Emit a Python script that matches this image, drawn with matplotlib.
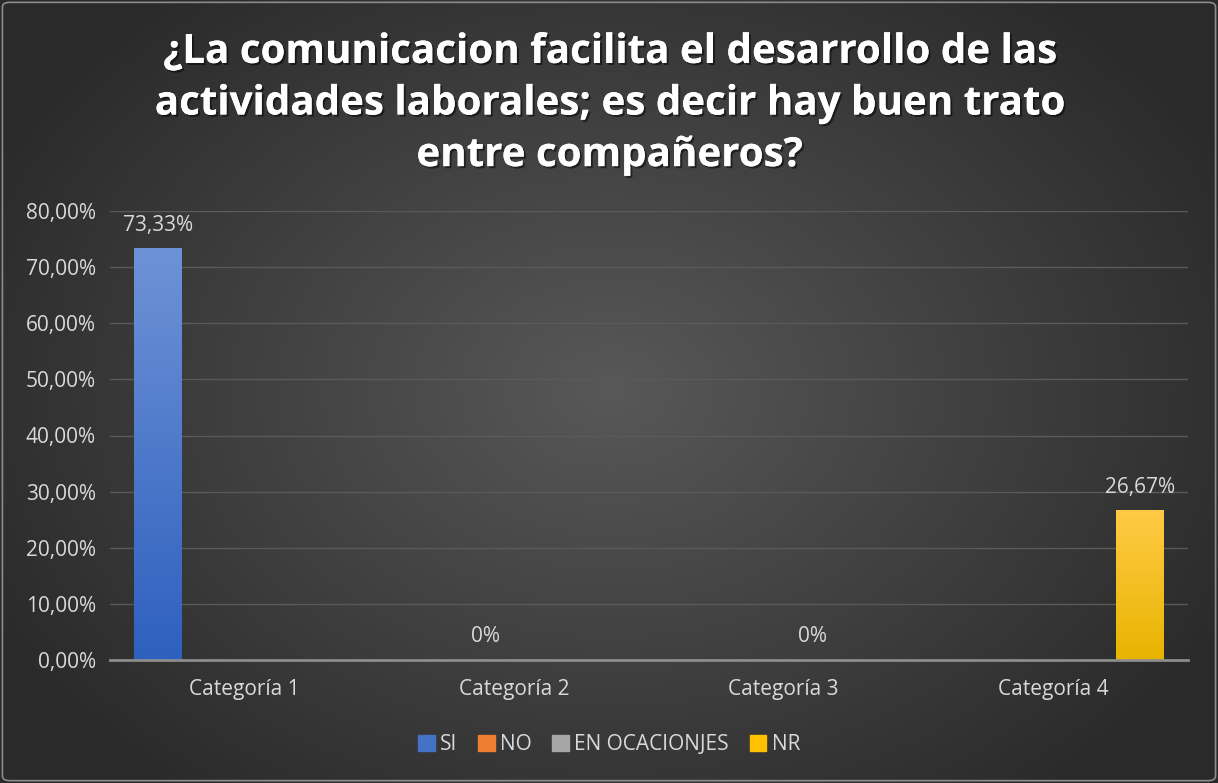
import numpy as np
import matplotlib
matplotlib.use("Agg")
import matplotlib.pyplot as plt
from matplotlib.patches import FancyBboxPatch
from matplotlib.colors import LinearSegmentedColormap
import matplotlib.patheffects as pe

categories = ["Categoría 1", "Categoría 2", "Categoría 3", "Categoría 4"]
series_names = ["SI", "NO", "EN OCACIONJES", "NR"]
si = [73.33, np.nan, np.nan, np.nan]
no = [np.nan, 0.0, np.nan, np.nan]
en_ocasiones = [np.nan, np.nan, 0.0, np.nan]
nr = [np.nan, np.nan, np.nan, 26.67]
series_values = [si, no, en_ocasiones, nr]
yticks = [0, 10, 20, 30, 40, 50, 60, 70, 80]
ytick_labels = ["0,00%", "10,00%", "20,00%", "30,00%", "40,00%", "50,00%", "60,00%", "70,00%", "80,00%"]
title = "¿La comunicacion facilita el desarrollo de las\nactividades laborales; es decir hay buen trato\nentre compañeros?"

colors_top = ["#6e92d6", "#f4884a", "#b0b0b0", "#ffca45"]
colors_bot = ["#2e60bf", "#e06d22", "#8f8f8f", "#e8b400"]
legend_colors = ["#4472c4", "#ed7d31", "#a5a5a5", "#ffc000"]
FS = 15

W, H = 1218, 783
fig = plt.figure(figsize=(W / 100, H / 100), dpi=100)
fig.patch.set_facecolor("#404040")

# background radial gradient
bg = fig.add_axes([0, 0, 1, 1], zorder=-10)
yy, xx = np.mgrid[0:H, 0:W]
r = np.sqrt(((xx - 610) / 700.0) ** 2 + ((yy - 390) / 520.0) ** 2)
r = np.clip(r, 0, 1)
c0 = np.array([0x58, 0x58, 0x58]) / 255
c1 = np.array([0x2a, 0x2a, 0x2a]) / 255
img = c0[None, None, :] * (1 - r[..., None]) + c1[None, None, :] * r[..., None]
bg.imshow(img, extent=[0, 1, 0, 1], aspect="auto", origin="upper")
bg.set_axis_off()
bg.add_patch(FancyBboxPatch((0.002, 0.003), 0.996, 0.994, boxstyle="round,pad=0,rounding_size=0.006",
                            transform=bg.transAxes, fill=False, edgecolor="#8c8c8c", lw=1.2))

ax = fig.add_axes([110 / W, 1 - 660 / H, (1188 - 110) / W, (660 - 211) / H])
ax.set_facecolor("none")
x = np.arange(len(categories))
width = 0.178
offsets = [-0.3225, -0.1075, 0.1075, 0.3225]

for i, (vals, name) in enumerate(zip(series_values, series_names)):
    bars = ax.bar(x + offsets[i], np.nan_to_num(vals, nan=0.0), width, color=legend_colors[i], label=name, zorder=3)
    cmap = LinearSegmentedColormap.from_list("g%d" % i, [colors_bot[i], colors_top[i]])
    for b, v in zip(bars, vals):
        if np.isnan(v):
            b.set_visible(False)
            continue
        if v > 0:
            x0, y0 = b.get_x(), b.get_y()
            w, h = b.get_width(), b.get_height()
            grad = np.linspace(0, 1, 256).reshape(-1, 1)
            im = ax.imshow(grad, cmap=cmap, origin="lower", extent=[x0, x0 + w, y0, y0 + h],
                           aspect="auto", zorder=4)
            im.set_clip_path(b)
        lbl = ("%.2f%%" % v).replace(".", ",") if v > 0 else "0%"
        ax.annotate(lbl, (b.get_x() + b.get_width() / 2, v), xytext=(0, 9), textcoords="offset points",
                    ha="center", va="bottom", color="#d9d9d9", fontsize=FS, family="Open Sans", zorder=6)

ax.set_xlim(-0.5, 3.5)
ax.set_ylim(0, 80)
ax.set_yticks(yticks)
ax.set_yticklabels(ytick_labels, color="#d9d9d9", fontsize=FS, family="Open Sans")
ax.set_xticks(x)
ax.set_xticklabels(categories, color="#d9d9d9", fontsize=FS, family="Open Sans")
ax.tick_params(axis="x", length=0, pad=14)
ax.tick_params(axis="y", length=0, pad=10)
ax.grid(axis="y", color="#5a5a5a", lw=1, zorder=0)
for s in ["top", "right", "left"]:
    ax.spines[s].set_visible(False)
ax.spines["bottom"].set_color("#8c8c8c")
ax.spines["bottom"].set_linewidth(2)
ax.spines["bottom"].set_zorder(5)

fig.text(0.5, 1 - 104 / H, title, ha="center", va="center", color="white", fontsize=29, fontweight="bold",
         family="Open Sans", linespacing=1.42,
         path_effects=[pe.withSimplePatchShadow(offset=(1.5, -1.5), shadow_rgbFace="black", alpha=0.5), pe.Normal()])

handles = [plt.Rectangle((0, 0), 1, 1, color=c) for c in legend_colors]
leg = fig.legend(handles, series_names, loc="center", bbox_to_anchor=(0.5, 1 - 745 / H), ncol=4,
                 frameon=False, handlelength=0.8, handleheight=0.8, handletextpad=0.25,
                 columnspacing=1.0, prop={"family": "Open Sans", "size": FS})
for t in leg.get_texts():
    t.set_color("#d9d9d9")

fig.savefig("out.png", dpi=100, facecolor=fig.get_facecolor())
